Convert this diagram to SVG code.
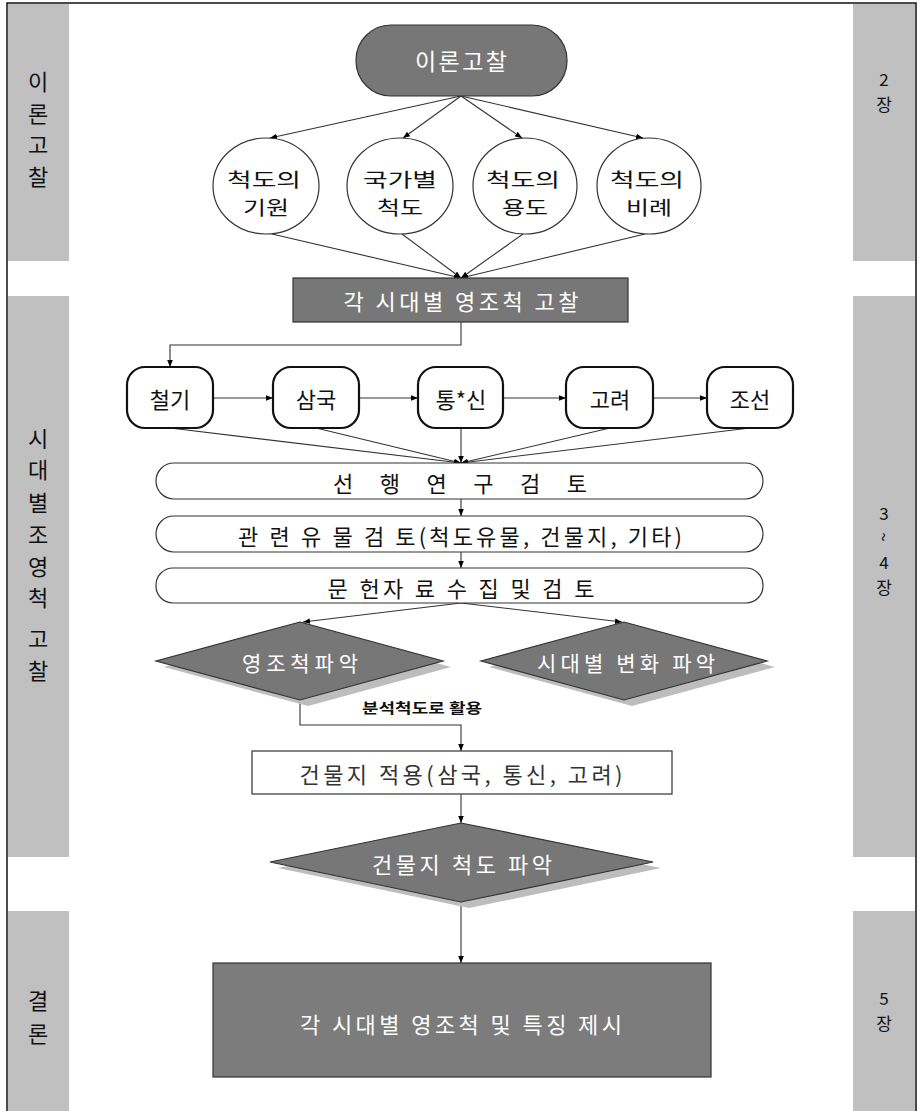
<svg xmlns="http://www.w3.org/2000/svg" width="921" height="1111" viewBox="0 0 921 1111">
<defs>
<marker id="ah" viewBox="0 0 10 10" refX="10" refY="5" markerWidth="7" markerHeight="7" markerUnits="userSpaceOnUse" orient="auto">
<path d="M0,1 L10,5 L0,9 z" fill="#000"/>
</marker>
<style>
text{font-family:"Noto Sans CJK KR","Liberation Sans",sans-serif;text-anchor:middle;dominant-baseline:central}
.bar{fill:#c0c0c0}
.side{font-size:22px;fill:#111}
.rside{font-size:17px;fill:#111}
.dark{fill:#777;stroke:#333;stroke-width:1.2}
.wt{fill:#fff;font-size:22px}
.bk{fill:#111;font-size:22px}
.cl{fill:#111;font-size:19px}
.ell{fill:#fff;stroke:#333;stroke-width:1.2}
.per{fill:#fff;stroke:#111;stroke-width:2.2}
.rr{fill:#fff;stroke:#333;stroke-width:1.2}
.shadow{fill:#bdbdbd}
.c{fill:none;stroke:#333;stroke-width:1.1}
.ca{fill:none;stroke:#333;stroke-width:1.1;marker-end:url(#ah)}
</style>
</defs>
<rect x="0" y="0" width="921" height="1111" fill="#fff"/>
<rect x="7" y="3" width="909" height="1130" fill="none" stroke="#111" stroke-width="1.5"/>

<g id="sidebars">
<rect class="bar" x="8" y="4" width="61" height="257"/>
<rect class="bar" x="853" y="4" width="62" height="257"/>
<rect class="bar" x="8" y="296" width="61" height="561"/>
<rect class="bar" x="853" y="296" width="62" height="561"/>
<rect class="bar" x="8" y="911" width="61" height="200"/>
<rect class="bar" x="853" y="911" width="62" height="200"/>
<text class="side" x="38" y="80">이</text>
<text class="side" x="38" y="112">론</text>
<text class="side" x="38" y="143">고</text>
<text class="side" x="38" y="175">찰</text>
<text class="rside" x="884" y="78">2</text>
<text class="rside" x="884" y="103">장</text>
<text class="side" x="38" y="437">시</text>
<text class="side" x="38" y="468">대</text>
<text class="side" x="38" y="501">별</text>
<text class="side" x="38" y="533">조</text>
<text class="side" x="38" y="565">영</text>
<text class="side" x="38" y="596">척</text>
<text class="side" x="38" y="637">고</text>
<text class="side" x="38" y="669">찰</text>
<text class="rside" x="884" y="512">3</text>
<text class="rside" x="884" y="537" transform="rotate(90 884 537)">~</text>
<text class="rside" x="884" y="561">4</text>
<text class="rside" x="884" y="586">장</text>
<text class="side" x="38" y="999">결</text>
<text class="side" x="38" y="1032">론</text>
<text class="rside" x="884" y="997">5</text>
<text class="rside" x="884" y="1022">장</text>
</g>

<g id="connectors">
<line class="ca" x1="461" y1="96" x2="270" y2="138"/>
<line class="ca" x1="461" y1="96" x2="403" y2="138"/>
<line class="ca" x1="461" y1="96" x2="522" y2="138"/>
<line class="ca" x1="461" y1="96" x2="643" y2="138"/>
<line class="ca" x1="272" y1="234" x2="461" y2="278"/>
<line class="ca" x1="402" y1="234" x2="461" y2="278"/>
<line class="ca" x1="523" y1="234" x2="461" y2="278"/>
<line class="ca" x1="645" y1="234" x2="461" y2="278"/>
<polyline class="ca" points="461,322 461,345 170,345 170,367"/>
<line class="ca" x1="213" y1="398" x2="273" y2="398"/>
<line class="ca" x1="359" y1="398" x2="418" y2="398"/>
<line class="ca" x1="503" y1="398" x2="566" y2="398"/>
<line class="ca" x1="653" y1="398" x2="707" y2="398"/>
<line class="ca" x1="170" y1="428" x2="461" y2="463"/>
<line class="ca" x1="316" y1="428" x2="461" y2="463"/>
<line class="ca" x1="461" y1="428" x2="461" y2="463"/>
<line class="ca" x1="610" y1="428" x2="461" y2="463"/>
<line class="ca" x1="750" y1="428" x2="461" y2="463"/>
<line class="ca" x1="461" y1="499" x2="461" y2="516"/>
<line class="ca" x1="461" y1="552" x2="461" y2="568"/>
<line class="ca" x1="461" y1="603" x2="303" y2="622"/>
<line class="ca" x1="461" y1="603" x2="622" y2="622"/>
<polyline class="ca" points="300,700 300,725 461,725 461,751"/>
<line class="ca" x1="461" y1="794" x2="461" y2="823"/>
<line class="ca" x1="461" y1="902" x2="461" y2="963"/>
<text x="422" y="707" style="font-size:14px;font-weight:bold;fill:#111" textLength="120" lengthAdjust="spacingAndGlyphs">분석척도로 활용</text>
</g>

<g id="n-top">
<rect class="dark" x="356" y="25" width="211" height="71" rx="35"/>
<text class="wt" x="461" y="60" style="font-size:23px" textLength="92">이론고찰</text>
</g>

<g id="n-c1">
<ellipse class="ell" cx="266" cy="186" rx="53" ry="48"/>
<text class="cl" x="264" y="178" textLength="74" lengthAdjust="spacingAndGlyphs">척도의</text>
<text class="cl" x="266" y="206" textLength="46" lengthAdjust="spacingAndGlyphs">기원</text>
</g>
<g id="n-c2">
<ellipse class="ell" cx="400" cy="186" rx="53" ry="48"/>
<text class="cl" x="400" y="178" textLength="74" lengthAdjust="spacingAndGlyphs">국가별</text>
<text class="cl" x="400" y="206" textLength="46" lengthAdjust="spacingAndGlyphs">척도</text>
</g>
<g id="n-c3">
<ellipse class="ell" cx="525" cy="186" rx="52" ry="48"/>
<text class="cl" x="523" y="178" textLength="74" lengthAdjust="spacingAndGlyphs">척도의</text>
<text class="cl" x="525" y="206" textLength="46" lengthAdjust="spacingAndGlyphs">용도</text>
</g>
<g id="n-c4">
<ellipse class="ell" cx="649" cy="186" rx="52" ry="48"/>
<text class="cl" x="647" y="178" textLength="74" lengthAdjust="spacingAndGlyphs">척도의</text>
<text class="cl" x="649" y="206" textLength="46" lengthAdjust="spacingAndGlyphs">비례</text>
</g>

<g id="n-era">
<rect class="dark" x="293" y="278" width="335" height="44"/>
<text class="wt" x="461" y="300" textLength="235">각 시대별 영조척 고찰</text>
</g>

<g id="n-p1"><rect class="per" x="127" y="367" width="86" height="61" rx="18"/><text class="bk" x="170" y="398">철기</text></g>
<g id="n-p2"><rect class="per" x="273" y="367" width="86" height="61" rx="18"/><text class="bk" x="316" y="398">삼국</text></g>
<g id="n-p3"><rect class="per" x="418" y="367" width="85" height="61" rx="18"/><text class="bk" x="461" y="398">통*신</text></g>
<g id="n-p4"><rect class="per" x="566" y="367" width="87" height="61" rx="18"/><text class="bk" x="610" y="398">고려</text></g>
<g id="n-p5"><rect class="per" x="707" y="367" width="86" height="61" rx="18"/><text class="bk" x="750" y="398">조선</text></g>

<g id="n-r1"><rect class="rr" x="156" y="463" width="607" height="36" rx="18"/><text class="bk" x="460" y="482" textLength="254">선 행 연 구 검 토</text></g>
<g id="n-r2"><rect class="rr" x="156" y="516" width="607" height="36" rx="18"/><text class="bk" x="460" y="535" textLength="444">관 련 유 물 검 토(척도유물, 건물지, 기타)</text></g>
<g id="n-r3"><rect class="rr" x="156" y="568" width="607" height="35" rx="17"/><text class="bk" x="461" y="587" textLength="267">문 헌자 료 수 집 및 검 토</text></g>

<g id="n-d1">
<polygon class="shadow" points="308,628 451,667 308,706 164,667"/>
<polygon class="dark" points="300,622 443,661 300,700 156,661"/>
<text class="wt" x="300" y="662" style="font-size:21px" textLength="116">영조척파악</text>
</g>
<g id="n-d2">
<polygon class="shadow" points="632,628 775,667 632,706 489,667"/>
<polygon class="dark" points="624,622 767,661 624,700 481,661"/>
<text class="wt" x="626" y="662" style="font-size:21px" textLength="178">시대별 변화 파악</text>
</g>

<g id="n-apply">
<rect x="252" y="751" width="420" height="43" fill="#fff" stroke="#333" stroke-width="1.2"/>
<text class="bk" x="461" y="773" style="fill:#333" textLength="323">건물지 적용(삼국, 통신, 고려)</text>
</g>

<g id="n-d3">
<polygon class="shadow" points="469,829 661,868 469,908 278,868"/>
<polygon class="dark" points="461,823 653,862 461,902 270,862"/>
<text class="wt" x="462" y="863" textLength="180">건물지 척도 파악</text>
</g>

<g id="n-final">
<rect class="dark" x="213" y="963" width="498" height="114" style="fill:#7c7c7c"/>
<text class="wt" x="461" y="1023" textLength="322">각 시대별 영조척 및 특징 제시</text>
</g>
</svg>
